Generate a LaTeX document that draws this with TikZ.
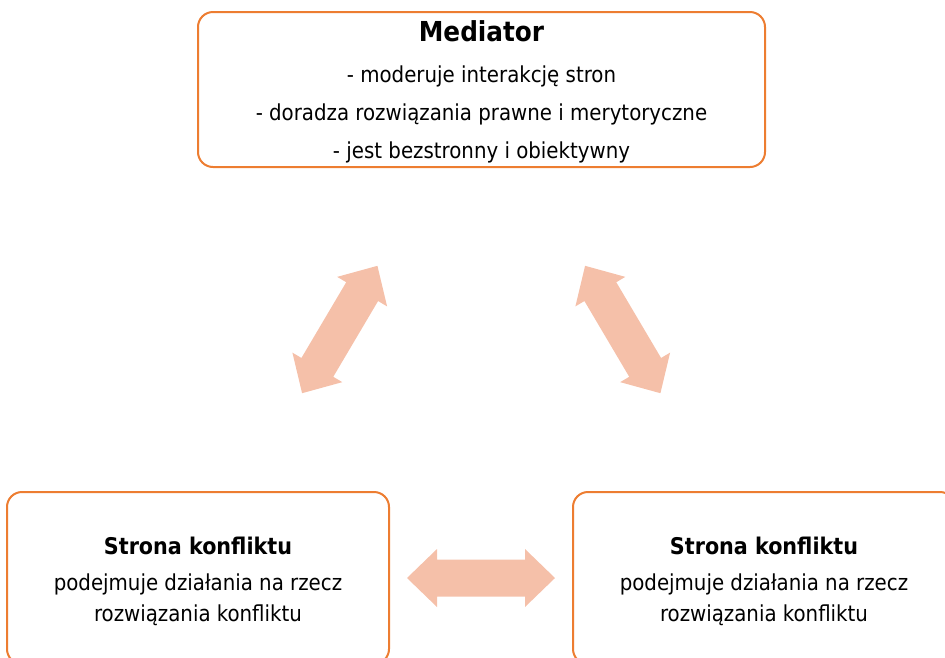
\documentclass[tikz,border=0pt]{standalone}
\usepackage{fontspec}
\setmainfont{DejaVu Sans Condensed}
\usepackage{tikz}
\usetikzlibrary{calc}
\definecolor{boxorange}{HTML}{ED7D31}
\definecolor{arrowfill}{HTML}{F5C0A9}
\tikzset{
  rolebox/.style={draw=boxorange, line width=2pt, rounded corners=15pt, fill=white},
  roletext/.style={align=center, inner sep=0pt, yshift=-3pt},
  dblarrow/.pic={
    \fill[arrowfill] (-74,0) -- (-44,29) -- (-44,18.5) -- (44,18.5) -- (44,29)
      -- (74,0) -- (44,-29) -- (44,-18.5) -- (-44,-18.5) -- (-44,-29) -- cycle;
  }
}

\begin{document}
\begin{tikzpicture}[x=1pt,y=1pt]
\useasboundingbox (0,-657) rectangle (945,0);
\clip (0,-657) rectangle (945,0);
% ramki
\node[rolebox, minimum width=567pt, minimum height=155pt] (mediator) at (481.5,-89.5) {};
\node[rolebox, minimum width=382pt, minimum height=172pt] (stronaL) at (198,-578) {};
\node[rolebox, minimum width=382pt, minimum height=172pt] (stronaR) at (764,-578) {};
% teksty
\node[roletext, font=\fontsize{22}{38}\selectfont] (mediatorTxt) at ([yshift=1pt]mediator.center) {
{\fontsize{27.5}{30}\selectfont\bfseries Mediator}\\[3pt]
- moderuje interakcję stron\\
- doradza rozwiązania prawne i merytoryczne\\
- jest bezstronny i obiektywny};
\node[roletext, font=\fontsize{22}{31}\selectfont] (stronaLTxt) at (stronaL.center) {
{\fontsize{23}{31}\selectfont\bfseries Strona konfliktu}\\[5pt]
podejmuje działania na rzecz\\
rozwiązania konfliktu};
\node[roletext, font=\fontsize{22}{31}\selectfont] (stronaRTxt) at (stronaR.center) {
{\fontsize{23}{31}\selectfont\bfseries Strona konfliktu}\\[5pt]
podejmuje działania na rzecz\\
rozwiązania konfliktu};
% strzalki
\pic[rotate=59.4] at ($(mediator.south)!.5!(stronaL.north)$) {dblarrow};
\pic[rotate=-59.4] at ($(mediator.south)!.5!(stronaR.north)$) {dblarrow};
\pic at ($(stronaL.east)!.5!(stronaR.west)$) {dblarrow};
\end{tikzpicture}
\end{document}
